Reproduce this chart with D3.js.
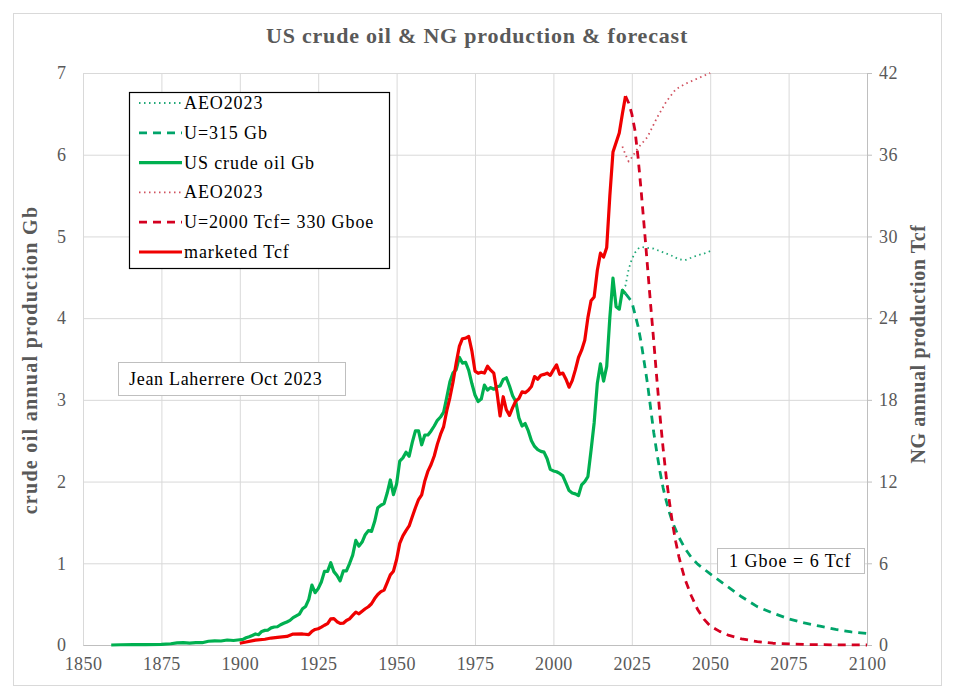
<!DOCTYPE html>
<html lang="en">
<head>
<meta charset="UTF-8"/>
<title>US crude oil & NG production & forecast</title>
<script src="https://d3js.org/d3.v7.min.js"></script>
<style>
  body { margin: 0; background: #fff; }
  text { font-family: "Liberation Serif", "DejaVu Serif", serif; }
</style>
</head>
<body>
<script>
    // Chart values (oil in Gb/yr on the left axis, gas in Tcf/yr on the right axis)
    var xTicks = [1850, 1875, 1900, 1925, 1950, 1975, 2000, 2025, 2050, 2075, 2100];
    var leftTicks = [0, 1, 2, 3, 4, 5, 6, 7];
    var rightTicks = [0, 6, 12, 18, 24, 30, 36, 42];

    // US crude oil, Gb
    var oilHist = [[1859,0.00],[1862,0.003],[1866,0.004],[1870,0.005],[1875,0.008],[1878,0.015],[1880,0.026],
        [1882,0.030],[1884,0.024],[1886,0.028],[1888,0.028],[1890,0.046],[1892,0.050],[1894,0.049],[1896,0.061],
        [1898,0.055],[1900,0.064],[1901,0.069],[1902,0.089],[1903,0.100],[1904,0.117],[1905,0.135],[1906,0.126],
        [1907,0.166],[1908,0.179],[1909,0.183],[1910,0.210],[1911,0.220],[1912,0.223],[1913,0.248],[1914,0.266],
        [1915,0.281],[1916,0.301],[1917,0.335],[1918,0.356],[1919,0.378],[1920,0.443],[1921,0.472],[1922,0.558],
        [1923,0.732],[1924,0.640],[1925,0.690],[1926,0.771],[1927,0.901],[1928,0.901],[1929,1.007],[1930,0.898],
        [1931,0.851],[1932,0.785],[1933,0.906],[1934,0.908],[1935,0.997],[1936,1.10],[1937,1.28],[1938,1.21],
        [1939,1.26],[1940,1.35],[1941,1.40],[1942,1.39],[1943,1.51],[1944,1.68],[1945,1.71],[1946,1.73],
        [1947,1.86],[1948,2.02],[1949,1.84],[1950,1.97],[1951,2.25],[1952,2.29],[1953,2.36],[1954,2.31],
        [1955,2.48],[1956,2.62],[1957,2.62],[1958,2.45],[1959,2.57],[1960,2.57],[1961,2.62],[1962,2.68],
        [1963,2.75],[1964,2.79],[1965,2.85],[1966,3.03],[1967,3.22],[1968,3.33],[1969,3.37],[1970,3.52],
        [1971,3.45],[1972,3.46],[1973,3.36],[1974,3.20],[1975,3.06],[1976,2.98],[1977,3.01],[1978,3.18],
        [1979,3.12],[1980,3.15],[1981,3.13],[1982,3.16],[1983,3.17],[1984,3.25],[1985,3.27],[1986,3.17],
        [1987,3.05],[1988,2.98],[1989,2.78],[1990,2.68],[1991,2.71],[1992,2.62],[1993,2.50],[1994,2.43],
        [1995,2.39],[1996,2.37],[1997,2.36],[1998,2.28],[1999,2.15],[2000,2.13],[2001,2.12],[2002,2.10],
        [2003,2.07],[2004,1.98],[2005,1.89],[2006,1.86],[2007,1.85],[2008,1.83],[2009,1.96],[2010,2.00],
        [2011,2.06],[2012,2.38],[2013,2.72],[2014,3.20],[2015,3.44],[2016,3.23],[2017,3.41],[2018,4.01],
        [2019,4.49],[2020,4.14],[2021,4.11],[2022,4.34],[2023,4.30]];

    // U=315 Gb forecast, Gb
    var oilFc = [[2023,4.30],[2024,4.25],[2025,4.20],[2026,4.05],[2027,3.90],[2028,3.70],[2029,3.45],[2030,3.20],
        [2031,2.90],[2032,2.60],[2033,2.35],[2034,2.12],[2035,1.92],[2036,1.76],[2037,1.62],[2038,1.50],
        [2040,1.32],[2042,1.18],[2044,1.07],[2046,0.99],[2048,0.93],[2050,0.87],[2055,0.73],[2060,0.59],
        [2065,0.47],[2070,0.39],[2075,0.32],[2080,0.27],[2085,0.23],[2090,0.19],[2095,0.16],[2100,0.14]];

    // AEO2023 oil, Gb
    var oilAeo = [[2022,4.34],[2023,4.40],[2024,4.60],[2025,4.72],[2026,4.80],[2027,4.85],[2028,4.87],[2030,4.86],
        [2032,4.85],[2034,4.82],[2036,4.79],[2038,4.76],[2040,4.72],[2042,4.71],[2044,4.74],[2046,4.77],
        [2048,4.79],[2050,4.82]];

    // US marketed natural gas, Tcf
    var gasHist = [[1900,0.13],[1902,0.22],[1905,0.36],[1908,0.42],[1910,0.51],[1912,0.56],[1915,0.63],[1917,0.80],
        [1920,0.81],[1922,0.76],[1923,1.00],[1924,1.14],[1925,1.19],[1926,1.31],[1927,1.45],[1928,1.57],
        [1929,1.92],[1930,1.94],[1931,1.71],[1932,1.59],[1933,1.60],[1934,1.80],[1935,1.92],[1936,2.17],
        [1937,2.41],[1938,2.29],[1939,2.48],[1940,2.66],[1941,2.81],[1942,3.03],[1943,3.41],[1944,3.71],
        [1945,3.92],[1946,4.03],[1947,4.58],[1948,5.15],[1949,5.42],[1950,6.28],[1951,7.46],[1952,8.01],
        [1953,8.40],[1954,8.74],[1955,9.41],[1956,10.08],[1957,10.68],[1958,11.03],[1959,12.05],[1960,12.77],
        [1961,13.25],[1962,13.88],[1963,14.75],[1964,15.46],[1965,16.04],[1966,17.21],[1967,18.17],[1968,19.32],
        [1969,20.70],[1970,21.92],[1971,22.49],[1972,22.53],[1973,22.65],[1974,21.60],[1975,20.11],[1976,19.95],
        [1977,20.03],[1978,19.97],[1979,20.47],[1980,20.18],[1981,19.96],[1982,18.58],[1983,16.82],[1984,18.23],
        [1985,17.27],[1986,16.86],[1987,17.43],[1988,17.92],[1989,18.10],[1990,18.59],[1991,18.53],[1992,18.71],
        [1993,18.98],[1994,19.71],[1995,19.51],[1996,19.81],[1997,19.87],[1998,19.96],[1999,19.80],[2000,20.20],
        [2001,20.57],[2002,19.88],[2003,19.97],[2004,19.52],[2005,18.93],[2006,19.41],[2007,20.20],[2008,21.11],
        [2009,21.65],[2010,22.38],[2011,24.04],[2012,25.28],[2013,25.56],[2014,27.50],[2015,28.77],[2016,28.48],
        [2017,29.19],[2018,32.99],[2019,36.20],[2020,36.90],[2021,37.60],[2022,39.00],[2023,40.30]];

    // U=2000 Tcf forecast, Tcf
    var gasFc = [[2023,40.3],[2024,39.8],[2025,39.0],[2026,37.8],[2027,35.8],[2028,33.3],[2029,30.6],[2030,27.8],
        [2031,25.0],[2032,22.3],[2033,19.5],[2034,16.8],[2035,14.4],[2036,12.3],[2037,10.5],[2038,8.9],
        [2039,7.6],[2040,6.5],[2041,5.6],[2042,4.8],[2044,3.6],[2046,2.6],[2048,1.9],[2050,1.4],[2053,1.0],
        [2056,0.7],[2060,0.45],[2065,0.25],[2070,0.13],[2080,0.04],[2090,0.01],[2100,0]];

    // AEO2023 gas, Tcf
    var gasAeo = [[2022,36.6],[2023,36.0],[2024,35.5],[2025,35.8],[2027,36.5],[2030,37.3],[2033,38.7],[2036,39.9],
        [2039,40.8],[2042,41.2],[2045,41.5],[2048,41.8],[2050,42.0]];

    var legendLabels = ["AEO2023", "U=315 Gb", "US crude oil Gb", "AEO2023", "U=2000 Tcf= 330 Gboe", "marketed Tcf"];

    // Layout
    var w = 954, h = 696;
    var plotL = 83, plotR = 867, plotT = 73, plotB = 645;
    var grey = "#595959";

    var svg = d3.select("body").append("svg")
        .attr("width", w)
        .attr("height", h);

    svg.append("rect").attr("width", w).attr("height", h).attr("fill", "#fff");
    svg.append("rect")
        .attr("x", 13.5).attr("y", 13.5)
        .attr("width", 928).attr("height", 672)
        .attr("fill", "#fff").attr("stroke", "#d9d9d9");

    var xScale = d3.scaleLinear().domain([1850, 2100]).range([plotL, plotR]);
    var yLeft = d3.scaleLinear().domain([0, 7]).range([plotB, plotT]);
    var yRight = d3.scaleLinear().domain([0, 42]).range([plotB, plotT]);

    // Gridlines
    svg.append("g")
        .attr("transform", `translate(0,${plotB})`)
        .call(d3.axisBottom(xScale).tickValues(xTicks).tickSize(-(plotB - plotT)).tickFormat(""))
        .call(g => g.select(".domain").remove())
        .call(g => g.selectAll("line").attr("stroke", "#d9d9d9"));

    svg.append("g")
        .attr("transform", `translate(${plotL},0)`)
        .call(d3.axisLeft(yLeft).tickValues(leftTicks).tickSize(-(plotR - plotL)).tickFormat(""))
        .call(g => g.select(".domain").remove())
        .call(g => g.selectAll("line").attr("stroke", "#d9d9d9"));

    // Bottom axis labels
    var xAxis = svg.append("g")
        .attr("transform", `translate(0,${plotB})`)
        .call(d3.axisBottom(xScale).tickValues(xTicks).tickSize(0).tickPadding(12).tickFormat(d3.format("d")));
    xAxis.select(".domain").attr("stroke", "#bfbfbf");
    xAxis.selectAll("text").attr("fill", grey).attr("font-size", 18).attr("letter-spacing", "0.4px");

    // Left axis labels
    var yAxisL = svg.append("g")
        .attr("transform", `translate(${plotL},0)`)
        .call(d3.axisLeft(yLeft).tickValues(leftTicks).tickSize(0).tickPadding(17).tickFormat(d3.format("d")));
    yAxisL.select(".domain").remove();
    yAxisL.selectAll("text").attr("fill", grey).attr("font-size", 18);

    // Right axis with ticks
    var yAxisR = svg.append("g")
        .attr("transform", `translate(${plotR},0)`)
        .call(d3.axisRight(yRight).tickValues(rightTicks).tickSize(5).tickPadding(7).tickFormat(d3.format("d")));
    yAxisR.select(".domain").attr("stroke", "#bfbfbf");
    yAxisR.selectAll("line").attr("stroke", "#bfbfbf");
    yAxisR.selectAll("text").attr("fill", grey).attr("font-size", 18).attr("letter-spacing", "0.4px");

    // Title and axis titles
    svg.append("text")
        .attr("x", 477).attr("y", 43)
        .attr("text-anchor", "middle")
        .attr("font-size", 22).attr("font-weight", "bold").attr("fill", grey)
        .attr("letter-spacing", "0.8px")
        .text("US crude oil & NG production & forecast");

    svg.append("text")
        .attr("transform", "translate(37,360) rotate(-90)")
        .attr("text-anchor", "middle")
        .attr("font-size", 20).attr("font-weight", "bold").attr("fill", grey)
        .attr("letter-spacing", "1.3px")
        .text("crude oil annual production Gb");

    svg.append("text")
        .attr("transform", "translate(925,344) rotate(-90)")
        .attr("text-anchor", "middle")
        .attr("font-size", 20).attr("font-weight", "bold").attr("fill", grey)
        .attr("letter-spacing", "0.6px")
        .text("NG annual production Tcf");

    // Series
    var lineL = d3.line().x(d => xScale(d[0])).y(d => yLeft(d[1]));
    var lineR = d3.line().x(d => xScale(d[0])).y(d => yRight(d[1]));

    var styles = [
        { data: oilAeo, gen: lineL, color: "#20a878", width: 1.8, dash: "1.5,3.5" },
        { data: oilFc, gen: lineL, color: "#00a46a", width: 2.8, dash: "8,6" },
        { data: oilHist, gen: lineL, color: "#00b050", width: 3.2, dash: null },
        { data: gasAeo, gen: lineR, color: "#d0505e", width: 1.8, dash: "1.5,3.5" },
        { data: gasFc, gen: lineR, color: "#d40020", width: 2.8, dash: "8,6" },
        { data: gasHist, gen: lineR, color: "#f00000", width: 3.2, dash: null }
    ];

    svg.append("g").selectAll("path")
        .data(styles)
        .enter()
        .append("path")
        .attr("d", d => d.gen(d.data))
        .attr("fill", "none")
        .attr("stroke", d => d.color)
        .attr("stroke-width", d => d.width)
        .attr("stroke-dasharray", d => d.dash)
        .attr("stroke-linejoin", "round");

    // Legend
    var legend = svg.append("g");
    legend.append("rect")
        .attr("x", 129.5).attr("y", 92.5)
        .attr("width", 260).attr("height", 176)
        .attr("fill", "#fff").attr("stroke", "#000").attr("stroke-width", 1.2);

    var items = legend.selectAll("g.item")
        .data(styles)
        .enter()
        .append("g")
        .attr("class", "item")
        .attr("transform", (d, i) => `translate(0,${103 + i * 29.8})`);

    items.append("line")
        .attr("x1", 139).attr("x2", 182)
        .attr("stroke", d => d.color)
        .attr("stroke-width", d => d.width)
        .attr("stroke-dasharray", d => d.dash);

    items.append("text")
        .attr("x", 184).attr("y", 6)
        .attr("font-size", 18).attr("fill", "#000").attr("letter-spacing", "0.9px")
        .text((d, i) => legendLabels[i]);

    // Notes
    svg.append("rect")
        .attr("x", 118.5).attr("y", 362.5).attr("width", 227).attr("height", 33)
        .attr("fill", "#fff").attr("stroke", "#bfbfbf");
    svg.append("text")
        .attr("x", 129).attr("y", 385)
        .attr("font-size", 18).attr("fill", "#000").attr("letter-spacing", "0.7px")
        .text("Jean Laherrere Oct 2023");

    svg.append("rect")
        .attr("x", 717.5).attr("y", 548.5).attr("width", 147).attr("height", 25)
        .attr("fill", "#fff").attr("stroke", "#bfbfbf");
    svg.append("text")
        .attr("x", 729).attr("y", 567)
        .attr("font-size", 18).attr("fill", "#000").attr("letter-spacing", "1px")
        .text("1 Gboe = 6 Tcf");
</script>
</body>
</html>
